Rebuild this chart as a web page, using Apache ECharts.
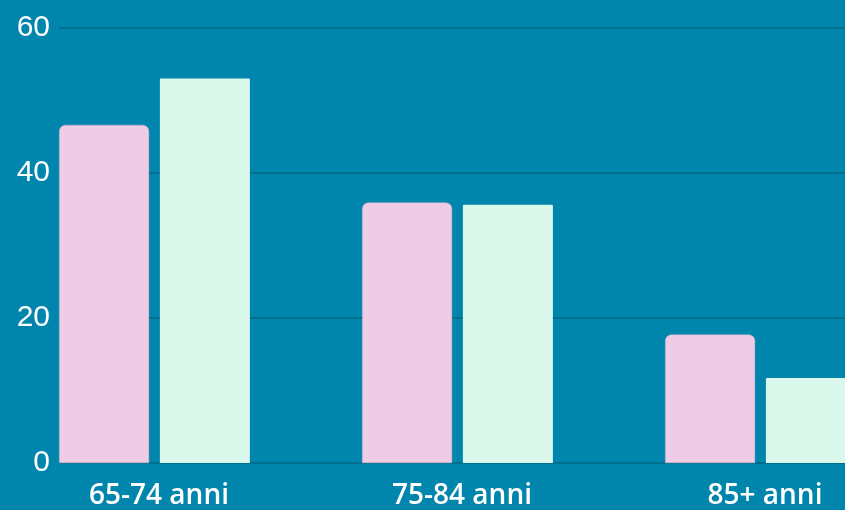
<!DOCTYPE html>
<html>
<head>
<meta charset="utf-8">
<script src="https://cdn.jsdelivr.net/npm/echarts@6/dist/echarts.min.js"></script>
<style>
html,body{margin:0;padding:0;background:#0085AC;}
#chart{width:845px;height:510px;}
</style>
</head>
<body>
<div id="chart"></div>
<script>
const categories = ['65-74 anni', '75-84 anni', '85+ anni'];
const seriesPink = [46.6, 35.9, 17.7];
const seriesMint = [53.0, 35.6, 11.7];
const yTicks = [0, 20, 40, 60];

const chart = echarts.init(document.getElementById('chart'));
chart.setOption({
  backgroundColor: '#0085AC',
  animation: false,
  grid: [
    {left: 59, right: 0, top: 27.7, bottom: 47, outerBoundsMode: 'none', containLabel: false},
    {left: 3, width: 909, top: 27.7, bottom: 47, outerBoundsMode: 'none', containLabel: false}
  ],
  xAxis: [
    {gridIndex: 0, type: 'category', data: categories, show: false},
    {gridIndex: 1, type: 'category', data: categories,
      axisLine: {show: false}, axisTick: {show: false},
      axisLabel: {color: '#ffffff', fontFamily: 'Open Sans', fontWeight: 600, fontSize: 28, margin: 19,
        padding: [0, 0, 0, 9]}}
  ],
  yAxis: [
    {gridIndex: 0, type: 'value', min: yTicks[0], max: yTicks[yTicks.length-1], interval: 20,
      axisLine: {show: false}, axisTick: {show: false},
      axisLabel: {color: '#ffffff', fontFamily: 'Liberation Sans', fontSize: 30, margin: 9},
      splitLine: {lineStyle: {color: '#006E8D', width: 2}}},
    {gridIndex: 1, type: 'value', min: yTicks[0], max: yTicks[yTicks.length-1], interval: 20, show: false,
      splitLine: {show: false}}
  ],
  series: [
    {type: 'bar', xAxisIndex: 1, yAxisIndex: 1, data: seriesPink, barWidth: 90, barGap: '12%',
      itemStyle: {color: '#EECCE6', borderRadius: [6, 6, 0, 0], borderColor: '#C9B3CF', borderWidth: 0.5}},
    {type: 'bar', xAxisIndex: 1, yAxisIndex: 1, data: seriesMint, barWidth: 90, barGap: '12%',
      itemStyle: {color: '#DAF7EC', borderRadius: [1, 1, 0, 0]}}
  ]
});
</script>
</body>
</html>
